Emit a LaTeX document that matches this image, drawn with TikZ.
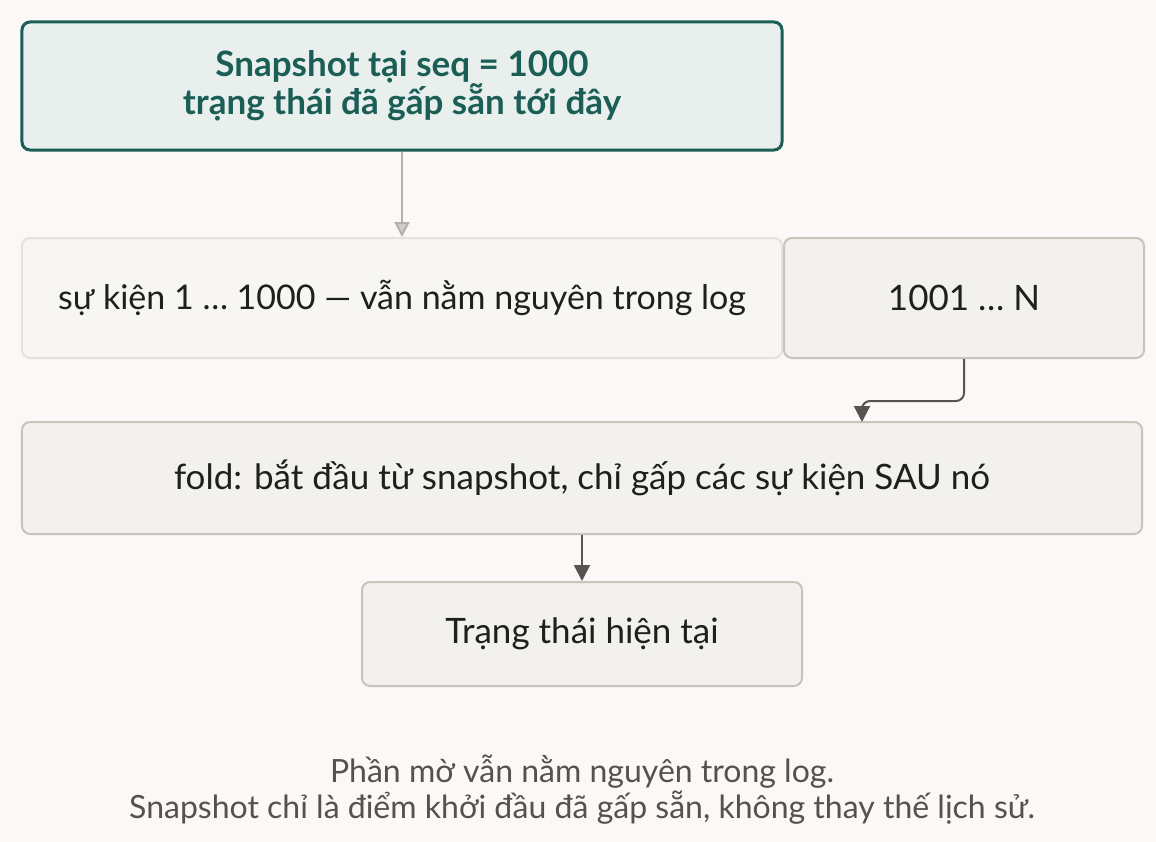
\documentclass[tikz,border=0pt]{standalone}
\usepackage{fontspec}
\setmainfont{Lato}
\usetikzlibrary{arrows.meta,positioning}

\definecolor{bg}{HTML}{FAF9F7}
\definecolor{snapfill}{HTML}{E8EFEC}
\definecolor{snapline}{HTML}{1B5E56}
\definecolor{oldfill}{HTML}{F7F6F3}
\definecolor{oldline}{HTML}{E4E2DC}
\definecolor{boxfill}{HTML}{F2F1ED}
\definecolor{boxline}{HTML}{C8C4BB}
\definecolor{ink}{HTML}{1F1F1D}
\definecolor{faint}{HTML}{B3B1AB}
\definecolor{dark}{HTML}{55544F}
\definecolor{note}{HTML}{55524C}

\begin{document}
\begin{tikzpicture}[x=1bp, y=-1bp]
                % Define styles
                \tikzstyle{box_snap} = [font=\fontsize{35bp}{38bp}\selectfont\bfseries, text=snapline, rectangle, draw=snapline, line width=3bp, fill=snapfill, align=center, rounded corners=8bp, minimum width=760bp, minimum height=128bp]
                \tikzstyle{box_old} = [font=\fontsize{34bp}{40bp}\selectfont, text=ink, rectangle, draw=oldline, line width=2bp, fill=oldfill, rounded corners=8bp, minimum width=760bp, minimum height=120bp]
                \tikzstyle{box_step} = [font=\fontsize{35bp}{40bp}\selectfont, text=ink, rectangle, draw=boxline, line width=2bp, fill=boxfill, rounded corners=8bp, minimum height=112bp]
                \tikzstyle{line_faint} = [draw=faint, line width=2bp, -{Triangle[width=15bp, length=15bp, fill=faint!60]}]
                \tikzstyle{line_dark} = [draw=dark, line width=2bp, -{Triangle[width=16bp, length=16bp]}]

                % Background
                \fill [bg] (0,0) rectangle (1156,842);
                \useasboundingbox (0,0) rectangle (1156,842);

                % Nodes
                \node [box_snap] (snap) at (402,86) {Snapshot tại seq = 1000\\trạng thái đã gấp sẵn tới đây};

                \node [box_old] (old_log) at (402,298) {sự kiện 1 … 1000 — vẫn nằm nguyên trong log};
                \node [box_step, minimum width=360bp, minimum height=120bp, right=0bp of old_log] (new_log) {1001 … N};

                \node [box_step, minimum width=1120bp] (fold) at (582,478) {fold: bắt đầu từ snapshot, chỉ gấp các sự kiện SAU nó};
                \coordinate (fold_in) at (862,422);

                \node [box_step, minimum width=440bp, minimum height=104bp] (state) at (582,634) {Trạng thái hiện tại};

                \node [font=\fontsize{32bp}{36bp}\selectfont, text=note, align=center] (caption) at (582,790) {Phần mờ vẫn nằm nguyên trong log.\\Snapshot chỉ là điểm khởi đầu đã gấp sẵn, không thay thế lịch sử.};

                % Lines
                \path [line_faint] (snap) -- (old_log);
                \path [line_dark, rounded corners=8bp] (new_log.south) -- ++(0,42) -| (fold_in);
                \path [line_dark] (fold) -- (state);
            \end{tikzpicture}
\end{document}
